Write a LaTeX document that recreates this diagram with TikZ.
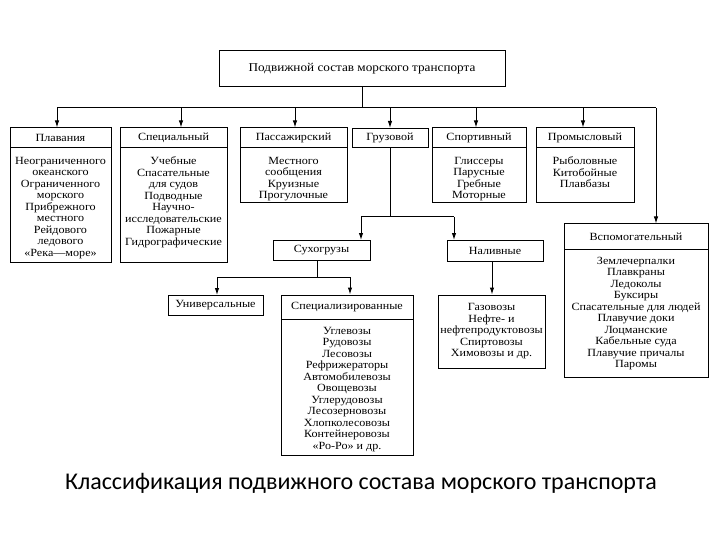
\documentclass[tikz,border=0pt]{standalone}
\usepackage{fontspec}
\setmainfont{Liberation Serif}[FakeStretch=1.1]
\newfontfamily\capfont{Carlito}
\usetikzlibrary{arrows.meta}

\begin{document}
\begin{tikzpicture}[x=1pt,y=-1pt,line width=1pt,
  frame/.style={draw,inner sep=0pt},
  head box/.style={draw,inner sep=0pt,anchor=north,font=\fontsize{11}{12}\selectfont},
  body text/.style={anchor=north,align=center,inner sep=0pt,font=\fontsize{11}{11.5}\selectfont},
  branch/.style={-{Latex[length=7pt,width=4.5pt]}}]

\useasboundingbox (0,0) rectangle (720,540);

% top of the tree
\node[frame,minimum width=286pt,minimum height=36pt,font=\fontsize{12}{13}\selectfont] (top) at (362,69) {Подвижной состав морского транспорта};

% first row
\node[frame,minimum width=101pt,minimum height=134pt] (plav) at (60.5,195) {};
\node[head box,minimum width=101pt,minimum height=20pt] (plavh) at (plav.north) {Плавания};
\node[body text] at ([yshift=-8pt]plavh.south) {Неограниченного\\океанского\\Ограниченного\\морского\\Прибрежного\\местного\\Рейдового\\ледового\\«Река—море»};

\node[frame,minimum width=107pt,minimum height=134pt] (spec) at (173.5,195) {};
\node[head box,minimum width=107pt,minimum height=20pt] (spech) at (spec.north) {Специальный};
\node[body text] at ([yshift=-8pt]spech.south) {Учебные\\Спасательные\\для судов\\Подводные\\Научно-\\исследовательские\\Пожарные\\Гидрографические};

\node[frame,minimum width=107pt,minimum height=75pt] (pass) at (293.5,165.5) {};
\node[head box,minimum width=107pt,minimum height=20pt] (passh) at (pass.north) {Пассажирский};
\node[body text] at ([yshift=-8pt]passh.south) {Местного\\сообщения\\Круизные\\Прогулочные};

\node[head box,minimum width=76pt,minimum height=19pt] (gruz) at (390,128) {Грузовой};

\node[frame,minimum width=94pt,minimum height=75pt] (sport) at (479,165.5) {};
\node[head box,minimum width=94pt,minimum height=20pt] (sporth) at (sport.north) {Спортивный};
\node[body text] at ([yshift=-8pt]sporth.south) {Глиссеры\\Парусные\\Гребные\\Моторные};

\node[frame,minimum width=98pt,minimum height=75pt] (prom) at (585,165.5) {};
\node[head box,minimum width=98pt,minimum height=20pt] (promh) at (prom.north) {Промысловый};
\node[body text] at ([yshift=-8pt]promh.south) {Рыболовные\\Китобойные\\Плавбазы};

\node[frame,minimum width=144pt,minimum height=153pt] (vspom) at (636,300.5) {};
\node[head box,minimum width=144pt,minimum height=25pt] (vspomh) at (vspom.north) {Вспомогательный};
\node[body text] at ([yshift=-7pt]vspomh.south) {Землечерпалки\\Плавкраны\\Ледоколы\\Буксиры\\Спасательные для людей\\Плавучие доки\\Лоцманские\\Кабельные суда\\Плавучие причалы\\Паромы};

% cargo ships
\node[head box,minimum width=97pt,minimum height=20pt] (suh) at (321.5,240) {Сухогрузы};
\node[head box,minimum width=96pt,minimum height=21pt] (nal) at (495,240) {Наливные};

\node[head box,minimum width=95pt,minimum height=20pt] (univ) at (215.5,295) {Универсальные};

\node[frame,minimum width=132pt,minimum height=160pt] (specz) at (347,375) {};
\node[head box,minimum width=132pt,minimum height=24pt] (speczh) at (specz.north) {Специализированные};
\node[body text] at ([yshift=-7pt]speczh.south) {Углевозы\\Рудовозы\\Лесовозы\\Рефрижераторы\\Автомобилевозы\\Овощевозы\\Углерудовозы\\Лесозерновозы\\Хлопколесовозы\\Контейнеровозы\\«Ро-Ро» и др.};

\node[frame,minimum width=107pt,minimum height=73pt,align=center,font=\fontsize{11}{11.5}\selectfont] (nallist) at (491.5,331.5) {Газовозы\\Нефте- и\\нефтепродуктовозы\\Спиртовозы\\Химовозы и др.};

% connectors
\coordinate (busL) at (57,108);
\coordinate (busR) at (656,108);
\draw (top.south) -- (top.south |- busL);
\draw (busL) -- (busR);
\draw[branch] (busL) -- (busL |- plav.north);
\draw[branch] (181,108) -- (181,108 |- spec.north);
\draw[branch] (295,108) -- (295,108 |- pass.north);
\draw[branch] (390,108) -- (gruz.north);
\draw[branch] (476,108) -- (476,108 |- sport.north);
\draw[branch] (583,108) -- (583,108 |- prom.north);
\draw[branch] (busR) -- (busR |- vspom.north);

\coordinate (gruzL) at (361,217);
\coordinate (gruzR) at (454,217);
\draw (gruz.south) -- (gruz.south |- gruzL);
\draw (gruzL) -- (gruzR);
\draw[branch] (gruzL) -- (gruzL |- suh.north);
\draw[branch] (gruzR) -- (gruzR |- nal.north);

\coordinate (suhL) at (217,277);
\coordinate (suhR) at (350,277);
\draw (317,0 |- suh.south) -- (317,277);
\draw (suhL) -- (suhR);
\draw[branch] (suhL) -- (suhL |- univ.north);
\draw[branch] (suhR) -- (suhR |- specz.north);

\draw[branch] (492,0 |- nal.south) -- (492,0 |- nallist.north);

% caption
\node[font=\capfont\fontsize{24}{27}\selectfont] (caption) at (361,483) {Классификация подвижного состава морского транспорта};
\end{tikzpicture}
\end{document}
